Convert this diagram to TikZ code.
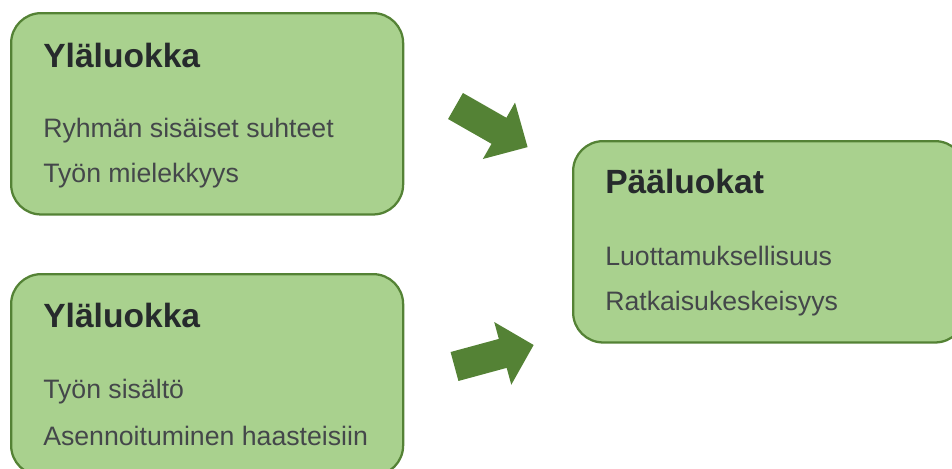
\documentclass[tikz,border=0pt]{standalone}
\usepackage{fontspec}
\setmainfont{Liberation Sans}
\begin{document}
\definecolor{boxfill}{HTML}{A9D18E}
\definecolor{boxline}{HTML}{548235}
\definecolor{titlecol}{HTML}{262A2C}
\definecolor{bodycol}{HTML}{44474A}
\begin{tikzpicture}[x=0.75pt, y=-0.75pt,
  catbox/.style={draw=boxline, fill=boxfill, line width=1.7pt, rounded corners=22.5pt,
    minimum width=294pt, minimum height=151pt, anchor=north west, inner sep=0pt},
  cattitle/.style={anchor=base west, inner sep=0pt, text=titlecol,
    font=\fontsize{25.2pt}{30pt}\selectfont\bfseries},
  catitem/.style={anchor=base west, inner sep=0pt, text=bodycol,
    font=\fontsize{20pt}{24pt}\selectfont},
  blockarrow/.style={fill=boxline}]
\useasboundingbox (0,0) rectangle (952,468);
\clip (0,0) rectangle (952,468);

% upper source category
\node[catbox] (upper) at (10,12) {};
\node[cattitle] (upperT) at (43,67) {Yläluokka};
\node[catitem] (upperA) at (43,137) {Ryhmän sisäiset suhteet};
\node[catitem] (upperB) at (43,182) {Työn mielekkyys};

% lower source category
\node[catbox] (lower) at (10,273) {};
\node[cattitle] (lowerT) at (43,327) {Yläluokka};
\node[catitem] (lowerA) at (43,398) {Työn sisältö};
\node[catitem] (lowerB) at (43,445) {Asennoituminen haasteisiin};

% main category
\node[catbox] (main) at (572,140) {};
\node[cattitle] (mainT) at (605,193) {Pääluokat};
\node[catitem] (mainA) at (605,265) {Luottamuksellisuus};
\node[catitem] (mainB) at (605,310) {Ratkaisukeskeisyys};

% block arrows pointing at the main category
\coordinate (tailU) at (455.5,106);
\coordinate (tailL) at (454.5,366.5);
\fill[blockarrow, shift={(tailU)}, rotate=-29.7]
  (0,-15) -- (50,-15) -- (50,-32.5) -- (83,0) -- (50,32.5) -- (50,15) -- (0,15) -- cycle;
\fill[blockarrow, shift={(tailL)}, rotate=15.2]
  (0,-15) -- (50,-15) -- (50,-32.5) -- (82,0) -- (50,32.5) -- (50,15) -- (0,15) -- cycle;
\end{tikzpicture}
\end{document}
